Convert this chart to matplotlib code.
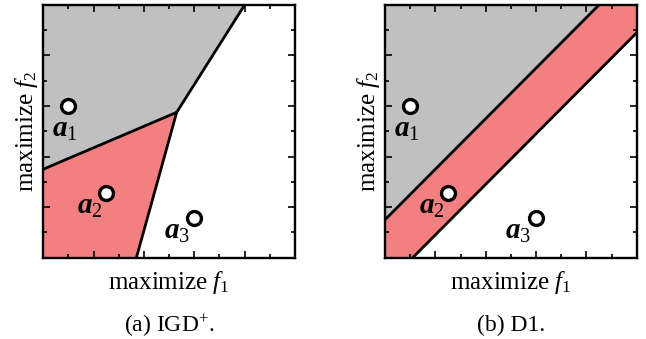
import matplotlib
matplotlib.use("Agg")
import matplotlib.pyplot as plt
from matplotlib.ticker import MultipleLocator

plt.rcParams["font.family"] = ["Liberation Serif", "DejaVu Serif"]
plt.rcParams["mathtext.fontset"] = "custom"
plt.rcParams["mathtext.rm"] = "Liberation Serif"
plt.rcParams["mathtext.it"] = "Liberation Serif:italic"
plt.rcParams["mathtext.bf"] = "Liberation Serif:bold:italic"

# --- data (objective space, 0..10 on both axes) ---
point_names = ["a_1", "a_2", "a_3"]
point_f1 = [1.0, 2.5, 6.0]
point_f2 = [6.0, 2.55, 1.55]

# (a) IGD+ region boundaries
igd_upper_f1 = [0.0, 5.3, 8.0]
igd_upper_f2 = [3.5, 5.75, 10.0]
igd_lower_f1 = [3.7, 5.3]
igd_lower_f2 = [0.0, 5.75]

# (b) D1 band boundaries
d1_upper_f1 = [0.0, 8.5]
d1_upper_f2 = [1.5, 10.0]
d1_lower_f1 = [1.1, 10.0]
d1_lower_f2 = [0.0, 8.9]

captions = ["(a) IGD$^{+}$.", "(b) D1."]

GRAY = "#c0c0c0"
RED = "#f28080"

label_offsets = [(-0.15, -0.95), (-0.65, -0.55), (-0.7, -0.55)]


def style_axes(ax, caption):
    ax.set_xlim(0, 10)
    ax.set_ylim(0, 10)
    ax.xaxis.set_major_locator(MultipleLocator(2))
    ax.yaxis.set_major_locator(MultipleLocator(2))
    ax.xaxis.set_minor_locator(MultipleLocator(1))
    ax.yaxis.set_minor_locator(MultipleLocator(1))
    ax.tick_params(which="both", direction="in", top=True, right=True,
                   labelbottom=False, labelleft=False, width=1.2)
    ax.tick_params(which="major", length=5)
    ax.tick_params(which="minor", length=3)
    for s in ax.spines.values():
        s.set_linewidth(1.7)
    ax.set_xlabel("maximize $f_1$", fontsize=18)
    ax.xaxis.set_label_coords(0.5, -0.045)
    ax.set_ylabel("maximize $f_2$", fontsize=18)
    ax.yaxis.set_label_coords(-0.012, 0.5)
    ax.text(0.5, -0.27, caption, transform=ax.transAxes, fontsize=17,
            ha="center", va="center")


def draw_points(ax):
    ax.plot(point_f1, point_f2, "o", ms=10, mfc="white", mec="black",
            mew=2.4, zorder=5, clip_on=False)
    for name, x, y, (dx, dy) in zip(point_names, point_f1, point_f2, label_offsets):
        ax.text(x + dx, y + dy, r"$\mathbf{a}_" + name[-1] + "$", fontsize=21,
                ha="center", va="center", zorder=6)


fig = plt.figure(figsize=(6.46, 3.39), dpi=100)
ax1 = fig.add_axes([0.067, 0.24, 0.3896, 0.7454])
ax2 = fig.add_axes([0.596, 0.24, 0.3896, 0.7454])

# --- (a) IGD+ ---
gray_x = igd_upper_f1 + [0.0]
gray_y = igd_upper_f2 + [10.0]
ax1.fill(gray_x, gray_y, color=GRAY, lw=0)
red_x = [0.0] + igd_lower_f1 + [igd_upper_f1[0]]
red_y = [0.0] + igd_lower_f2 + [igd_upper_f2[0]]
ax1.fill(red_x, red_y, color=RED, lw=0)
ax1.plot(igd_upper_f1, igd_upper_f2, color="black", lw=2)
ax1.plot(igd_lower_f1, igd_lower_f2, color="black", lw=2)
draw_points(ax1)
style_axes(ax1, captions[0])

# --- (b) D1 ---
ax2.fill(d1_upper_f1 + [0.0], d1_upper_f2 + [10.0], color=GRAY, lw=0)
ax2.fill([0.0, d1_lower_f1[0], d1_lower_f1[1], 10.0, d1_upper_f1[1], d1_upper_f1[0]],
         [0.0, d1_lower_f2[0], d1_lower_f2[1], 10.0, d1_upper_f2[1], d1_upper_f2[0]],
         color=RED, lw=0)
ax2.plot(d1_upper_f1, d1_upper_f2, color="black", lw=2)
ax2.plot(d1_lower_f1, d1_lower_f2, color="black", lw=2)
draw_points(ax2)
style_axes(ax2, captions[1])

fig.savefig("out.png", dpi=100)
